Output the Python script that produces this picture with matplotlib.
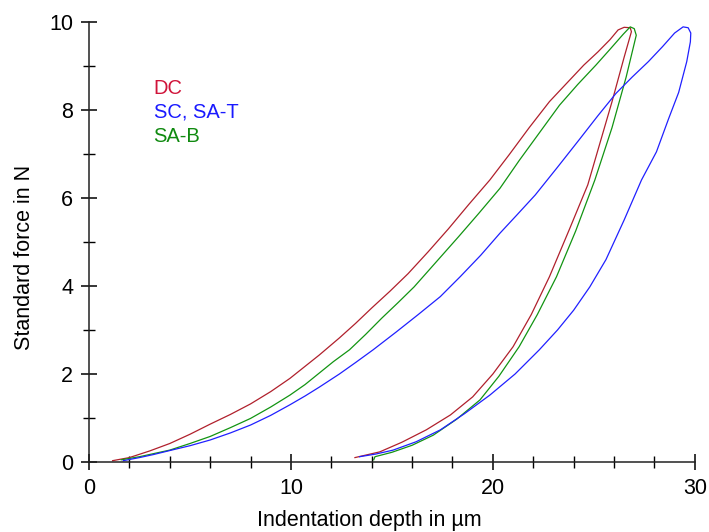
import numpy as np
import matplotlib.pyplot as plt

plt.rcParams["font.family"] = ["Liberation Sans", "DejaVu Sans"]

# indentation curves: loading branch then unloading branch (depth in um, force in N)
dc_load_x = [1.17, 2.0, 3.0, 4.0, 5.0, 6.0, 7.0, 8.0, 9.0, 9.95, 11.4, 12.4, 13.2,
             14.0, 14.9, 15.8, 16.8, 17.8, 18.8, 19.85, 20.8, 21.8, 22.8, 23.7,
             24.5, 25.2, 25.8, 26.2, 26.5, 26.8]
dc_load_y = [0.03, 0.1, 0.25, 0.42, 0.63, 0.86, 1.08, 1.32, 1.6, 1.90, 2.43, 2.82,
             3.15, 3.5, 3.88, 4.28, 4.78, 5.3, 5.85, 6.41, 6.98, 7.6, 8.19, 8.63,
             9.02, 9.32, 9.6, 9.82, 9.88, 9.87]
dc_unload_x = [26.86, 26.5, 25.9, 24.7, 23.8, 22.8, 21.9, 21.0, 20.0, 19.0, 17.9,
               16.7, 15.5, 14.4, 13.17]
dc_unload_y = [9.78, 9.2, 8.19, 6.3, 5.3, 4.21, 3.35, 2.62, 2.0, 1.48, 1.07,
               0.73, 0.45, 0.23, 0.1]

sab_load_x = [1.6, 2.5, 3.2, 4.0, 5.0, 6.0, 7.0, 8.0, 9.0, 9.95, 10.7, 11.4, 12.1,
              12.9, 13.7, 14.5, 15.3, 16.1, 17.2, 18.3, 19.3, 20.35, 21.3, 22.3,
              23.3, 24.2, 25.1, 25.8, 26.45, 26.8, 27.0]
sab_load_y = [0.05, 0.12, 0.19, 0.27, 0.42, 0.58, 0.78, 0.99, 1.25, 1.52, 1.76,
              2.02, 2.28, 2.55, 2.9, 3.27, 3.62, 3.98, 4.55, 5.12, 5.65, 6.22,
              6.85, 7.48, 8.11, 8.58, 9.02, 9.38, 9.72, 9.89, 9.85]
sab_unload_x = [27.1, 26.6, 25.9, 25.05, 24.1, 23.15, 22.2, 21.3, 20.3, 19.36,
                18.2, 17.05, 16.0, 15.0, 14.16, 14.1]
sab_unload_y = [9.7, 8.75, 7.6, 6.41, 5.25, 4.21, 3.35, 2.62, 1.95, 1.41,
                0.97, 0.61, 0.38, 0.22, 0.12, 0.05]

sc_load_x = [1.7, 2.5, 3.2, 4.0, 5.0, 6.0, 7.0, 8.0, 9.0, 9.95, 10.7, 11.4, 12.4,
             13.2, 14.07, 15.2, 16.3, 17.4, 18.4, 19.4, 20.35, 21.2, 22.1, 23.2,
             24.3, 25.2, 26.1, 26.9, 27.7, 28.4, 29.0, 29.42, 29.67]
sc_load_y = [0.03, 0.1, 0.17, 0.26, 0.37, 0.5, 0.66, 0.84, 1.06, 1.30, 1.5, 1.70,
             2.0, 2.26, 2.55, 2.95, 3.35, 3.76, 4.22, 4.7, 5.2, 5.62, 6.07, 6.7,
             7.34, 7.87, 8.38, 8.75, 9.1, 9.44, 9.75, 9.89, 9.87]
sc_unload_x = [29.8, 29.78, 29.6, 29.2, 28.7, 28.1, 27.36, 26.5, 25.6, 24.8, 24.0,
               23.2, 22.3, 21.1, 19.85, 18.6, 17.4, 16.2, 15.06, 14.2, 13.4]
sc_unload_y = [9.75, 9.55, 9.1, 8.4, 7.8, 7.05, 6.41, 5.5, 4.6, 3.98, 3.45,
               3.0, 2.55, 2.0, 1.52, 1.1, 0.73, 0.46, 0.27, 0.18, 0.12]

labels = ["DC", "SC, SA-T", "SA-B"]
line_colors = {"DC": "#b0202c", "SC, SA-T": "#2020ff", "SA-B": "#129412"}
text_colors = {"DC": "#d0143a", "SC, SA-T": "#1a1aff", "SA-B": "#108a10"}

curves = {
    "DC": (dc_load_x + dc_unload_x, dc_load_y + dc_unload_y),
    "SA-B": (sab_load_x + sab_unload_x, sab_load_y + sab_unload_y),
    "SC, SA-T": (sc_load_x + sc_unload_x, sc_load_y + sc_unload_y),
}

fig = plt.figure(figsize=(7.09, 5.32), dpi=100)
ax = fig.add_axes([0.1255, 0.1316, 0.8545, 0.827])

for name in ["DC", "SA-B", "SC, SA-T"]:
    x, y = curves[name]
    ax.plot(x, y, color=line_colors[name], lw=0.9)

ax.set_xlim(0, 30)
ax.set_ylim(0, 10)
ax.set_xticks([0, 10, 20, 30])
ax.set_xticks(np.arange(0, 31, 2), minor=True)
ax.set_yticks(np.arange(0, 11, 2))
ax.set_yticks(np.arange(1, 10, 2), minor=True)
ax.tick_params(which="major", direction="inout", length=11, width=1.1,
               labelsize=15.5, pad=6)
ax.tick_params(which="minor", direction="inout", length=8, width=1.0)

for side in ["top", "right"]:
    ax.spines[side].set_visible(False)
for side in ["left", "bottom"]:
    ax.spines[side].set_linewidth(1.1)
    ax.spines[side].set_color("#222222")
ax.spines["left"].set_bounds(0, 10)
ax.spines["bottom"].set_bounds(0, 30)

ax.set_xlabel("Indentation depth in µm", fontsize=15.5)
ax.set_ylabel("Standard force in N", fontsize=15.5)
ax.xaxis.set_label_coords(0.463, -0.108)
ax.yaxis.set_label_coords(-0.089, 0.464)

for i, name in enumerate(labels):
    ax.text(3.2, 8.5 - i * 0.55, name, color=text_colors[name], fontsize=14.5,
            va="center", ha="left")

fig.savefig("out.png", dpi=100)
